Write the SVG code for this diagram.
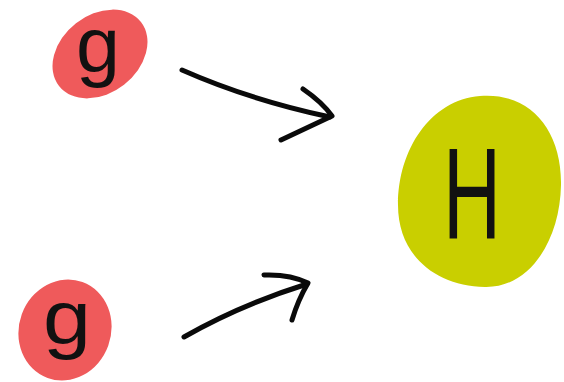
<svg xmlns="http://www.w3.org/2000/svg" width="564" height="382" viewBox="0 0 564 382">
<style>
.red{fill:#ef5a5b}
.yel{fill:#c9cf00}
.lbl{font-family:"Liberation Sans","DejaVu Sans",sans-serif;fill:#111;text-anchor:middle}
.arr{fill:none;stroke:#0a0a0a;stroke-width:5;stroke-linecap:round;stroke-linejoin:round}
</style>
<rect width="564" height="382" fill="#ffffff"/>
<g id="g-top">
<ellipse class="red" cx="100" cy="54" rx="52" ry="39" transform="rotate(-38 100 54)"/>
<text class="lbl" x="98" y="72" font-size="78" textLength="44" lengthAdjust="spacingAndGlyphs">g</text>
</g>
<g id="g-bottom">
<ellipse class="red" cx="65" cy="330" rx="46" ry="51" transform="rotate(20 65 330)"/>
<text class="lbl" x="67" y="344" font-size="76" textLength="48" lengthAdjust="spacingAndGlyphs">g</text>
</g>
<g id="h">
<path class="yel" d="M480,96 C530,92 562,130 561,185 C560,240 530,288 485,287 C435,286 398,255 398,205 C398,150 430,100 480,96 Z"/>
<text class="lbl" x="472" y="238" font-size="130" textLength="58" lengthAdjust="spacingAndGlyphs">H</text>
</g>
<g id="connectors">
<path class="arr" d="M182,70 Q250,100 330,117"/>
<path class="arr" d="M303,89 Q322,102 332,116 L281,140"/>
<path class="arr" d="M184,337 Q240,305 307,284"/>
<path class="arr" d="M264,275 Q290,274 308,283 Q298,300 292,320"/>
</g>
</svg>
